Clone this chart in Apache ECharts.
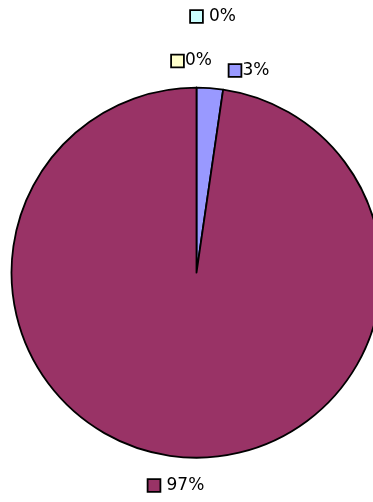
<!DOCTYPE html>
<html>
<head>
<meta charset="utf-8">
<script src="https://cdn.jsdelivr.net/npm/echarts@6/dist/echarts.min.js"></script>
<style>html,body{margin:0;padding:0;background:#fff}#c{width:373px;height:502px}</style>
</head>
<body>
<div id="c"></div>
<script>
// Data
const categories = ['A', 'B', 'C', 'D'];
const values = [0, 0, 2.3, 97.7];
const valueLabels = ['0%', '0%', '3%', '97%'];

// Styles / layout (not data)
const colors = ['#CCFFFF', '#FFFFCC', '#9999FF', '#993366'];
const labelPos = [[191, 16.5], [172, 61], [229.5, 70.5], [148.5, 485.5]];
const labelGap = [7, 2, 2, 7];

const chart = echarts.init(document.getElementById('c'), null, {renderer: 'canvas'});
const data = values.map((v, i) => ({
  name: categories[i],
  value: v,
  itemStyle: {color: colors[i]},
  label: {
    formatter: '{box|}{t|' + valueLabels[i] + '}',
    rich: {
      box: {width: 11, height: 11, backgroundColor: colors[i], borderColor: '#000', borderWidth: 1.8},
      t: {fontFamily: 'DejaVu Sans', fontSize: 17, color: '#000', padding: [0, 0, 0, labelGap[i]]}
    }
  }
}));

chart.setOption({
  animation: false,
  backgroundColor: '#fff',
  series: [{
    type: 'pie',
    center: [196.5, 272.7],
    radius: 185,
    startAngle: 90,
    clockwise: true,
    minAngle: 0,
    avoidLabelOverlap: false,
    stillShowZeroSum: true,
    itemStyle: {borderColor: '#000', borderWidth: 1.8},
    label: {show: true, position: 'outside'},
    labelLine: {show: false},
    labelLayout: function (p) {
      const pos = labelPos[p.dataIndex];
      return {x: pos[0], y: pos[1], align: 'left', verticalAlign: 'middle'};
    },
    emphasis: {disabled: true},
    data: data
  }]
});
</script>
</body>
</html>
